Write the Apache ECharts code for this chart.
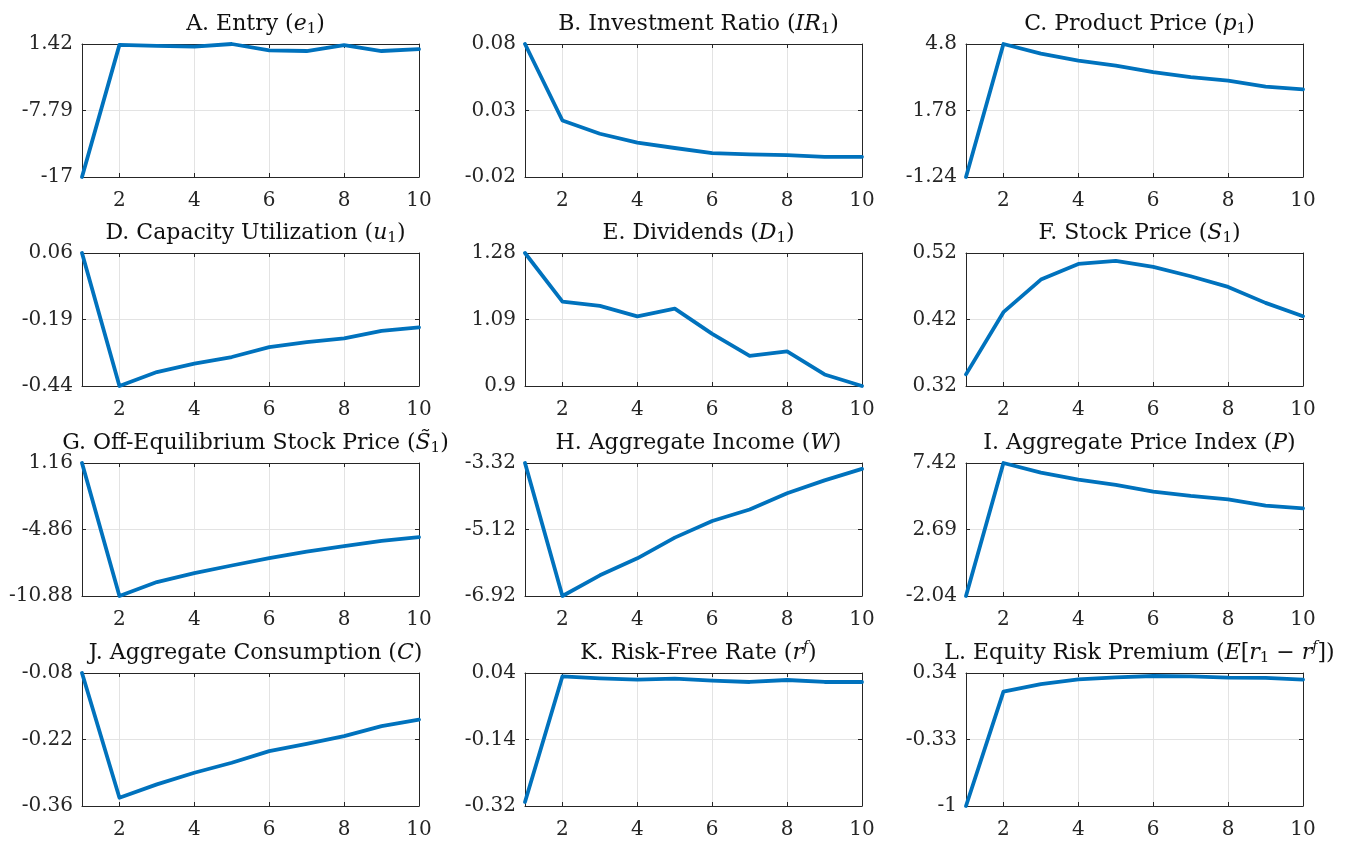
<!DOCTYPE html>
<html><head><meta charset="utf-8">
<script src="https://cdn.jsdelivr.net/npm/echarts@6/dist/echarts.min.js"></script>
<style>html,body{margin:0;padding:0;background:#fff}#c{width:1345px;height:842px}</style>
</head><body><div id="c"></div>
<script>
// ---- data ----
const periods = [1, 2, 3, 4, 5, 6, 7, 8, 9, 10];
const xTicks = [2, 4, 6, 8, 10];

const entry        = [-17, 1.3, 1.15, 1.05, 1.42, 0.55, 0.45, 1.25, 0.45, 0.7];
const investRatio  = [0.08, 0.0225, 0.0125, 0.0058, 0.0018, -0.002, -0.003, -0.0035, -0.0048, -0.0048];
const productPrice = [-1.24, 4.8, 4.36, 4.04, 3.82, 3.52, 3.3, 3.14, 2.86, 2.74];
const capacityUtil = [0.06, -0.44, -0.3875, -0.356, -0.331, -0.294, -0.275, -0.261, -0.2325, -0.22];
const dividends    = [1.28, 1.141, 1.129, 1.099, 1.121, 1.049, 0.986, 0.999, 0.933, 0.9];
const stockPrice   = [0.3375, 0.431, 0.48, 0.5035, 0.508, 0.499, 0.485, 0.469, 0.445, 0.425];
const offEqPrice   = [1.16, -10.88, -9.62, -8.81, -8.12, -7.46, -6.86, -6.37, -5.89, -5.55];
const aggIncome    = [-3.32, -6.92, -6.36, -5.9, -5.34, -4.89, -4.58, -4.14, -3.79, -3.48];
const aggPrice     = [-2.04, 7.42, 6.73, 6.24, 5.86, 5.39, 5.08, 4.84, 4.39, 4.2];
const aggConsump   = [-0.08, -0.3425, -0.3145, -0.29, -0.269, -0.2445, -0.229, -0.213, -0.192, -0.178];
const riskFree     = [-0.309, 0.031, 0.0256, 0.022, 0.0247, 0.0193, 0.0157, 0.021, 0.0157, 0.0157];
const equityPrem   = [-1, 0.152, 0.229, 0.276, 0.296, 0.31, 0.306, 0.293, 0.29, 0.273];

const yTicksA = [-17, -7.79, 1.42];
const yTicksB = [-0.02, 0.03, 0.08];
const yTicksC = [-1.24, 1.78, 4.8];
const yTicksD = [-0.44, -0.19, 0.06];
const yTicksE = [0.9, 1.09, 1.28];
const yTicksF = [0.32, 0.42, 0.52];
const yTicksG = [-10.88, -4.86, 1.16];
const yTicksH = [-6.92, -5.12, -3.32];
const yTicksI = [-2.04, 2.69, 7.42];
const yTicksJ = [-0.36, -0.22, -0.08];
const yTicksK = [-0.32, -0.14, 0.04];
const yTicksL = [-1, -0.33, 0.34];

const titles = [
  'A. Entry ({i|e}{sub|1})',
  'B. Investment Ratio ({i|IR}{sub|1})',
  'C. Product Price ({i|p}{sub|1})',
  'D. Capacity Utilization ({i|u}{sub|1})',
  'E. Dividends ({i|D}{sub|1})',
  'F. Stock Price ({i|S}{sub|1})',
  'G. Off-Equilibrium Stock Price ({i|S\u0303}{sub|1})',
  'H. Aggregate Income ({i|W})',
  'I. Aggregate Price Index ({i|P})',
  'J. Aggregate Consumption ({i|C})',
  'K. Risk-Free Rate ({i|r}{sup|f})',
  'L. Equity Risk Premium ({i|E}[{i|r}{sub|1} \u2212 {i|r}{sup|f}])'
];

const seriesValues = [entry, investRatio, productPrice, capacityUtil, dividends, stockPrice,
  offEqPrice, aggIncome, aggPrice, aggConsump, riskFree, equityPrem];
const yTicks = [yTicksA, yTicksB, yTicksC, yTicksD, yTicksE, yTicksF,
  yTicksG, yTicksH, yTicksI, yTicksJ, yTicksK, yTicksL];

// ---- layout / style ----
const FONT = '"DejaVu Serif", "Liberation Serif", serif';
const colLeft = [82, 525, 966];
const plotW = 337;
const rowTop = [44, 253, 463, 673];
const plotH = 133;
const axisColor = '#262626';
const gridColor = '#e3e3e3';
const lineColor = '#0072BD';
const TITLE_SIZE = 22;
const TICK_SIZE = 20;

const grid = [], xAxis = [], yAxis = [], series = [], title = [];
const fmt = v => String(+(+v).toFixed(2));

for (let k = 0; k < 12; k++) {
  const r = Math.floor(k / 3), c = k % 3;
  grid.push({ left: colLeft[c], top: rowTop[r], width: plotW, height: plotH, show: false });
  const yt = yTicks[k];
  xAxis.push({ gridIndex: k, type: 'value', position: 'bottom', min: 1, max: 10,
    axisLine: { show: true, onZero: false, lineStyle: { color: axisColor, width: 1 } },
    axisTick: { show: true, inside: true, length: 4, customValues: xTicks, lineStyle: { color: axisColor } },
    axisLabel: { show: true, customValues: xTicks, fontFamily: FONT, fontSize: TICK_SIZE, color: axisColor, margin: 14 },
    splitLine: { show: true, lineStyle: { color: gridColor, width: 1 } } });
  xAxis.push({ gridIndex: k, type: 'value', position: 'top', min: 1, max: 10,
    axisLine: { show: true, onZero: false, lineStyle: { color: axisColor, width: 1 } },
    axisTick: { show: true, inside: true, length: 4, customValues: xTicks, lineStyle: { color: axisColor } },
    axisLabel: { show: false }, splitLine: { show: false } });
  yAxis.push({ gridIndex: k, type: 'value', position: 'left', min: yt[0], max: yt[2],
    axisLine: { show: true, onZero: false, lineStyle: { color: axisColor, width: 1 } },
    axisTick: { show: true, inside: true, length: 4, customValues: yt, lineStyle: { color: axisColor } },
    axisLabel: { show: true, customValues: yt, formatter: fmt, fontFamily: FONT, fontSize: TICK_SIZE, color: axisColor, margin: 9 },
    splitLine: { show: true, lineStyle: { color: gridColor, width: 1 } } });
  yAxis.push({ gridIndex: k, type: 'value', position: 'right', min: yt[0], max: yt[2],
    axisLine: { show: true, onZero: false, lineStyle: { color: axisColor, width: 1 } },
    axisTick: { show: true, inside: true, length: 4, customValues: yt, lineStyle: { color: axisColor } },
    axisLabel: { show: false }, splitLine: { show: false } });
  series.push({ type: 'line', xAxisIndex: 2 * k, yAxisIndex: 2 * k,
    data: periods.map((p, i) => [p, seriesValues[k][i]]),
    showSymbol: false, symbol: 'none', clip: false, silent: true, animation: false,
    lineStyle: { color: lineColor, width: 3.8, join: 'round', cap: 'round' } });
  title.push({ text: titles[k], left: colLeft[c] + plotW / 2, top: rowTop[r] - 38,
    textAlign: 'center',
    textStyle: { fontFamily: FONT, fontSize: TITLE_SIZE, fontWeight: 'normal', color: '#111', lineHeight: 26,
      rich: {
        i: { fontFamily: FONT, fontSize: TITLE_SIZE, fontStyle: 'italic', color: '#111', lineHeight: 26 },
        sub: { fontFamily: FONT, fontSize: 15, color: '#111', lineHeight: 15, verticalAlign: 'bottom' },
        sup: { fontFamily: FONT, fontSize: 14, fontStyle: 'italic', color: '#111', lineHeight: 14, verticalAlign: 'top' }
      } } });
}

const chart = echarts.init(document.getElementById('c'));
chart.setOption({ backgroundColor: '#fff', animation: false, title, grid, xAxis, yAxis, series });
</script></body></html>
